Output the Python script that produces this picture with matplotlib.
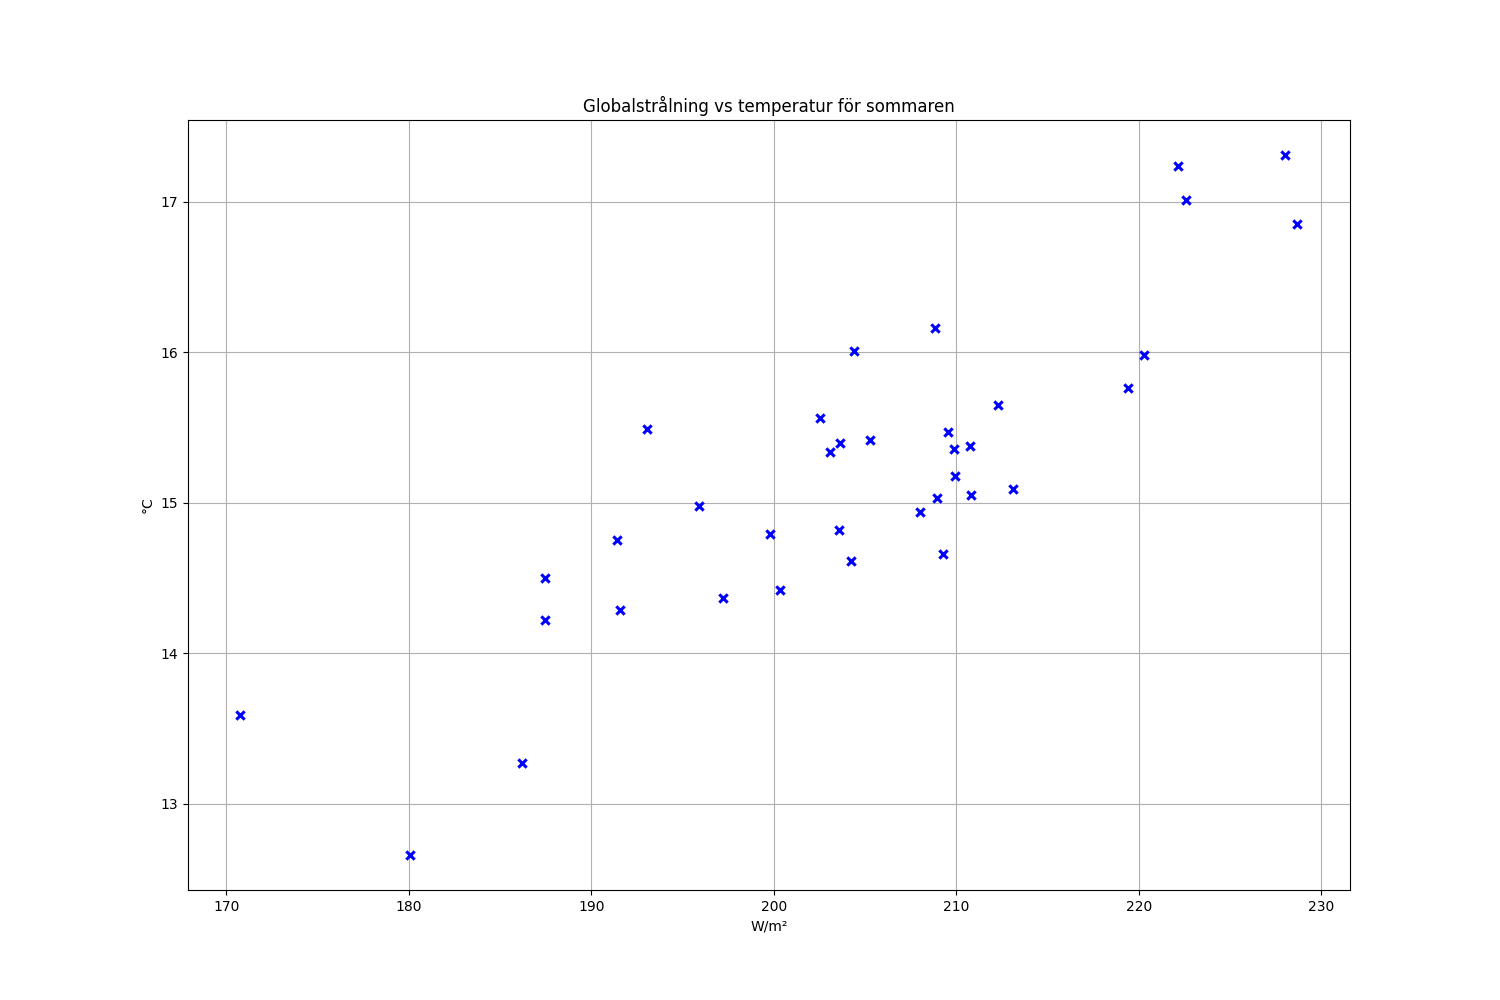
import matplotlib
matplotlib.use('Agg')
import matplotlib.pyplot as plt

# globalstrålning (W/m²) och medeltemperatur (°C) per sommar
stralning = [170.77, 180.08, 186.22, 187.48, 187.48, 191.42, 191.59, 193.07,
             195.92, 197.23, 199.81, 200.36, 202.55, 203.10, 203.59, 203.64,
             204.25, 204.41, 205.29, 208.03, 208.85, 208.96, 209.29, 209.56,
             209.89, 209.95, 210.77, 210.82, 212.30, 213.12, 219.42, 220.30,
             222.16, 222.60, 228.03, 228.68]
temperatur = [13.59, 12.66, 13.27, 14.50, 14.22, 14.75, 14.29, 15.49,
              14.98, 14.37, 14.79, 14.42, 15.56, 15.34, 14.82, 15.40,
              14.61, 16.01, 15.42, 14.94, 16.16, 15.03, 14.66, 15.47,
              15.36, 15.18, 15.38, 15.05, 15.65, 15.09, 15.76, 15.98,
              17.24, 17.01, 17.31, 16.85]

fig, ax = plt.subplots(figsize=(15, 10), dpi=100)
ax.scatter(stralning, temperatur, marker='x', color='blue', s=36, linewidths=2.2, zorder=3)
ax.set_title('Globalstrålning vs temperatur för sommaren')
ax.set_xlabel('W/m²')
ax.set_ylabel('°C')
ax.grid(True)

plt.savefig('out.png')
